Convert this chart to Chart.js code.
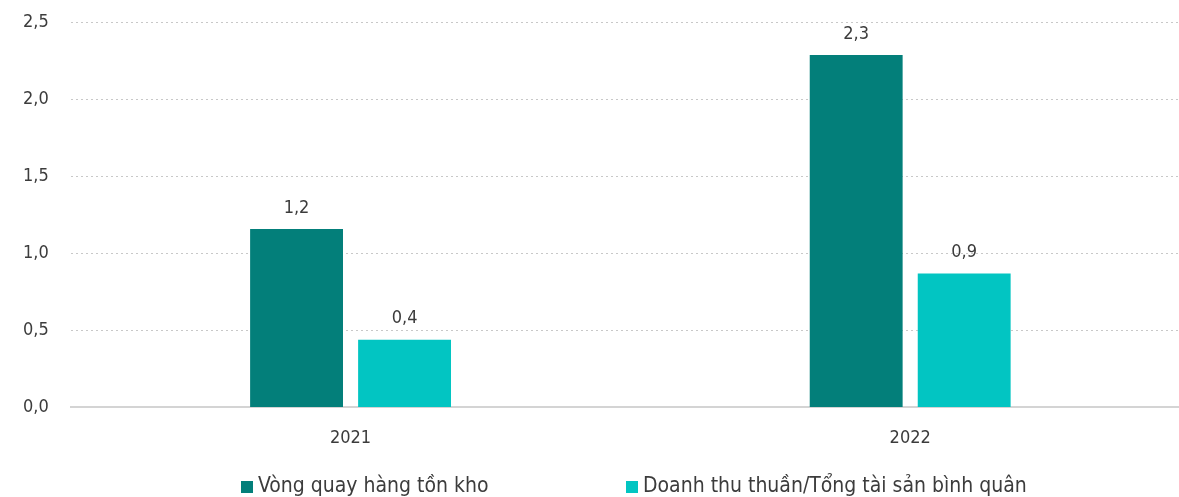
<!DOCTYPE html>
<html>
<head>
<meta charset="utf-8">
<script src="https://cdn.jsdelivr.net/npm/chart.js@4.4.1/dist/chart.umd.min.js"></script>
<style>
    html, body { margin: 0; padding: 0; background: #ffffff; overflow: hidden; }
    #wrap { position: relative; width: 1190px; height: 507px; margin-top: -10px; }
</style>
</head>
<body>
<div id="wrap"><canvas id="chart"></canvas></div>
<script>
// Chart data
const years = ['2021', '2022'];
const inventoryTurnover = [1.16, 2.29];
const assetTurnover = [0.44, 0.87];
const seriesNames = ['Vòng quay hàng tồn kho', 'Doanh thu thuần/Tổng tài sản bình quân'];
const seriesColors = ['#037F7A', '#02C5C2'];

const textColor = '#3c3c3c';
const fontFamily = '"DejaVu Sans Condensed", "DejaVu Sans", sans-serif';

function formatNum(v, digits) {
    return v.toFixed(digits).replace('.', ',');
}

// Value labels above bars
const barLabels = {
    id: 'barLabels',
    afterDatasetsDraw(chart) {
        const ctx = chart.ctx;
        ctx.save();
        ctx.fillStyle = textColor;
        ctx.font = '18px ' + fontFamily;
        ctx.textAlign = 'center';
        ctx.textBaseline = 'bottom';
        chart.data.datasets.forEach((ds, i) => {
            chart.getDatasetMeta(i).data.forEach((bar, j) => {
                ctx.fillText(formatNum(ds.data[j], 1), bar.x, bar.y - 12);
            });
        });
        ctx.restore();
    }
};

// Legend drawn by hand so the two items sit far apart on one row
const bottomLegend = {
    id: 'bottomLegend',
    afterDraw(chart) {
        const ctx = chart.ctx;
        const starts = [241, 626];
        const y = 497;
        ctx.save();
        ctx.font = '21px ' + fontFamily;
        ctx.textBaseline = 'middle';
        chart.data.datasets.forEach((ds, i) => {
            ctx.fillStyle = ds.backgroundColor;
            ctx.fillRect(starts[i], y - 6, 12, 12);
            ctx.fillStyle = textColor;
            ctx.fillText(ds.label, starts[i] + 17, y);
        });
        ctx.restore();
    }
};

const ctx = document.getElementById('chart').getContext('2d');
new Chart(ctx, {
    type: 'bar',
    data: {
        labels: years,
        datasets: [
            {
                label: seriesNames[0],
                data: inventoryTurnover,
                backgroundColor: seriesColors[0],
                categoryPercentage: 0.386,
                barPercentage: 0.86
            },
            {
                label: seriesNames[1],
                data: assetTurnover,
                backgroundColor: seriesColors[1],
                categoryPercentage: 0.386,
                barPercentage: 0.86
            }
        ]
    },
    options: {
        responsive: true,
        maintainAspectRatio: false,
        animation: false,
        layout: { padding: { top: 1, left: 1, right: 0, bottom: 36 } },
        plugins: {
            tooltip: { enabled: false },
            legend: { display: false }
        },
        scales: {
            x: {
                grid: { display: false },
                border: { display: true, color: '#d4d4d4', width: 2 },
                ticks: { color: textColor, font: { family: fontFamily, size: 18 }, padding: 12 }
            },
            y: {
                min: 0,
                max: 2.5,
                ticks: {
                    stepSize: 0.5,
                    color: textColor,
                    font: { family: fontFamily, size: 18 },
                    padding: 22,
                    callback: v => formatNum(v, 1)
                },
                border: { display: false, dash: [2, 3] },
                grid: { color: '#c8c8c8', drawTicks: false, lineWidth: 1 }
            }
        }
    },
    plugins: [barLabels, bottomLegend]
});
</script>
</body>
</html>
